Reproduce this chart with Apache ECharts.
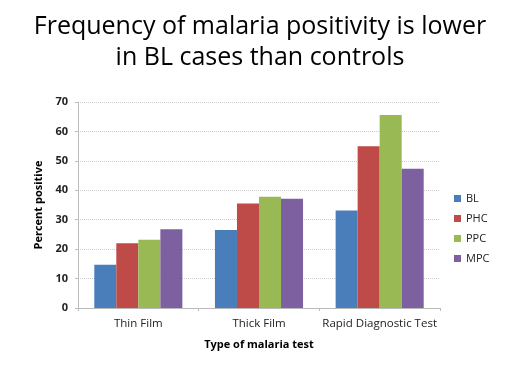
<!DOCTYPE html>
<html><head><meta charset="utf-8">
<script src="https://cdn.jsdelivr.net/npm/echarts@6/dist/echarts.min.js"></script>
<style>html,body{margin:0;padding:0;background:#fff}#c{width:520px;height:390px}</style>
</head><body><div id="c"></div>
<script>
var categories = ['Thin Film', 'Thick Film', 'Rapid Diagnostic Test'];
var seriesNames = ['BL', 'PHC', 'PPC', 'MPC'];
var BL = [14.7, 26.5, 33.1];
var PHC = [22.0, 35.5, 55.0];
var PPC = [23.2, 37.8, 65.6];
var MPC = [26.8, 37.1, 47.3];
var yTicks = [0, 10, 20, 30, 40, 50, 60, 70];
var colors = ['#4a7ebb', '#be4b48', '#98b954', '#7d60a0'];
var values = [BL, PHC, PPC, MPC];

var chart = echarts.init(document.getElementById('c'));
var font = 'Open Sans';
chart.setOption({
  animation: false,
  title: {
    text: 'Frequency of malaria positivity is lower\nin BL cases than controls',
    left: 'center', top: 6,
    textStyle: {fontFamily: font, fontSize: 25, fontWeight: 'normal', color: '#000', lineHeight: 31}
  },
  legend: {
    orient: 'vertical', left: 449, top: 188,
    itemWidth: 7, itemHeight: 7, itemGap: 9,
    icon: 'rect',
    textStyle: {fontFamily: font, fontSize: 11, color: '#222'},
    data: seriesNames
  },
  grid: {left: 78, right: 80, top: 102, bottom: 82, containLabel: false},
  xAxis: {
    type: 'category', data: categories,
    name: 'Type of malaria test', nameLocation: 'middle', nameGap: 31,
    nameTextStyle: {fontFamily: font, fontSize: 11, fontWeight: 'bold', color: '#000'},
    axisLine: {lineStyle: {color: '#bbb'}},
    axisTick: {show: true, alignWithLabel: false, length: 3, lineStyle: {color: '#bbb'}},
    axisLabel: {fontFamily: font, fontSize: 11.5, color: '#222', margin: 10, interval: 0}
  },
  yAxis: {
    type: 'value', min: yTicks[0], max: yTicks[yTicks.length - 1], interval: 10,
    name: 'Percent positive', nameLocation: 'middle', nameGap: 25,
    nameTextStyle: {fontFamily: font, fontSize: 11, fontWeight: 'bold', color: '#000'},
    axisLine: {show: true, lineStyle: {color: '#bbb'}},
    axisTick: {show: true, length: 3, lineStyle: {color: '#bbb'}},
    axisLabel: {fontFamily: font, fontSize: 11, color: '#222', fontWeight: 'bold', margin: 10},
    splitLine: {lineStyle: {color: '#ccc', type: 'dotted'}}
  },
  series: seriesNames.map(function (n, i) {
    return {
      name: n, type: 'bar', data: values[i],
      barGap: '0%', barCategoryGap: '27%',
      itemStyle: {color: colors[i]}
    };
  })
});
</script></body></html>
